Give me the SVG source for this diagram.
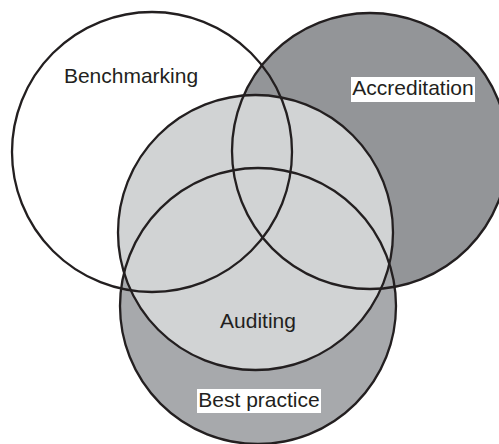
<svg xmlns="http://www.w3.org/2000/svg" width="499" height="444" viewBox="0 0 499 444">
<style>
.c{stroke:none}
.o{fill:none;stroke:#231f20;stroke-width:2.3}
.t{font-family:"Liberation Sans",Arial,sans-serif;font-size:21px;fill:#231f20;text-anchor:middle}
.lb{fill:#ffffff}
</style>
<rect width="499" height="444" fill="#ffffff"/>
<g id="fills">
<circle class="c" cx="152" cy="152" r="140" fill="#ffffff"/>
<circle class="c" cx="370" cy="151" r="138" fill="#939598"/>
<circle class="c" cx="258" cy="306" r="138" fill="#a7a9ac"/>
<circle class="c" cx="255.5" cy="232.5" r="137.5" fill="#d1d3d4"/>
</g>
<g id="benchmarking">
<circle class="o" cx="152" cy="152" r="140"/>
<text class="t" x="131" y="83">Benchmarking</text>
</g>
<g id="accreditation">
<circle class="o" cx="370" cy="151" r="138"/>
<rect class="lb" x="351" y="77" width="124" height="25"/>
<text class="t" x="413" y="95">Accreditation</text>
</g>
<g id="best-practice">
<circle class="o" cx="258" cy="306" r="138"/>
<rect class="lb" x="197" y="389" width="124" height="24"/>
<text class="t" x="259" y="407">Best practice</text>
</g>
<g id="auditing">
<circle class="o" cx="255.5" cy="232.5" r="137.5"/>
<text class="t" x="258" y="328">Auditing</text>
</g>
<g id="connectors"/>
</svg>
